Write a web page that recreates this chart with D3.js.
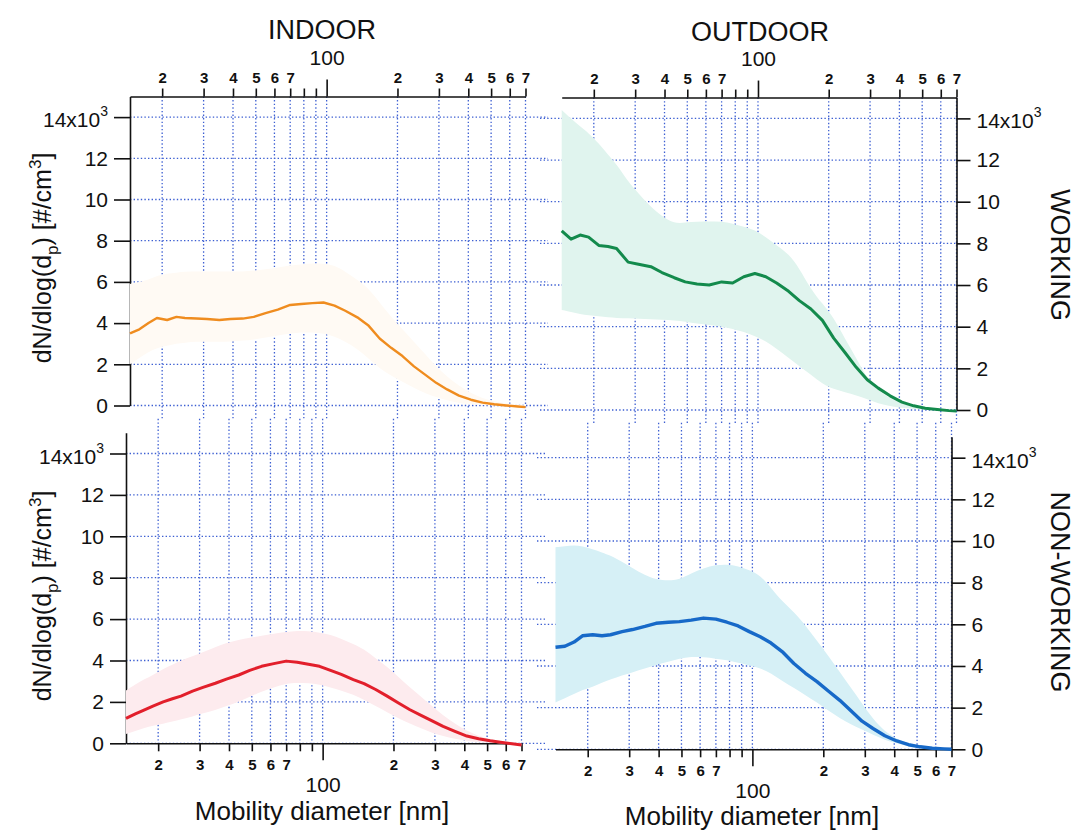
<!DOCTYPE html>
<html>
<head>
<meta charset="utf-8">
<script src="https://cdn.jsdelivr.net/npm/d3@7"></script>
<style>
  body { margin: 0; background: #fff; }
  svg { font-family: "Liberation Sans", Arial, sans-serif; }
</style>
</head>
<body>
<svg id="chart"></svg>
<script>
// mobility diameters (nm) where the curves were read
const dp = [14.6, 16, 17.5, 19, 21, 23, 25, 28, 31, 35, 39, 44, 49, 55, 62, 70, 78, 87, 97, 108,
            120, 135, 150, 168, 188, 210, 235, 262, 292, 325, 365, 410, 460, 515, 580, 650, 700];

// dN/dlog(dp), in 10^3 #/cm3
const indoorWorkMean = [3.5, 3.7, 4.0, 4.25, 4.15, 4.3, 4.25, 4.22, 4.2, 4.15, 4.2, 4.22, 4.3, 4.48, 4.65, 4.88, 4.93, 4.97, 5.0, 4.85,
                        4.6, 4.28, 3.9, 3.25, 2.8, 2.4, 1.9, 1.5, 1.1, 0.78, 0.48, 0.28, 0.14, 0.06, 0.0, -0.05, -0.08];
const indoorWorkHigh = [5.9, 6.0, 6.1, 6.3, 6.4, 6.45, 6.5, 6.5, 6.5, 6.5, 6.5, 6.5, 6.55, 6.6, 6.7, 6.8, 6.85, 6.9, 6.9, 6.8,
                        6.5, 6.1, 5.7, 5.0, 4.3, 3.7, 3.1, 2.5, 1.9, 1.4, 0.95, 0.6, 0.35, 0.2, 0.1, 0.05, 0.0];
const indoorWorkLow  = [2.0, 2.3, 2.6, 2.8, 2.9, 3.0, 3.05, 3.1, 3.1, 3.1, 3.1, 3.15, 3.2, 3.3, 3.4, 3.5, 3.55, 3.55, 3.5, 3.35,
                        3.1, 2.75, 2.3, 1.8, 1.45, 1.15, 0.85, 0.6, 0.4, 0.25, 0.12, 0.05, 0.02, 0.0, -0.02, -0.05, -0.08];

const outdoorWorkMean = [8.6, 8.2, 8.4, 8.3, 7.9, 7.85, 7.75, 7.1, 7.0, 6.88, 6.6, 6.35, 6.15, 6.05, 6.0, 6.15, 6.1, 6.4, 6.55, 6.4,
                         6.1, 5.7, 5.25, 4.85, 4.3, 3.45, 2.75, 2.05, 1.45, 1.05, 0.68, 0.38, 0.2, 0.08, 0.02, -0.03, -0.05];
const outdoorWorkHigh = [14.4, 14.0, 13.6, 13.3, 12.8, 12.25, 11.8, 10.95, 10.4, 9.75, 9.3, 8.95, 9.0, 9.05, 9.05, 9.05, 8.95, 8.8, 8.65, 8.3,
                         7.9, 7.5, 6.8, 5.8, 5.1, 4.45, 3.4, 2.5, 1.5, 0.95, 0.55, 0.3, 0.15, 0.07, 0.02, 0.0, 0.0];
const outdoorWorkLow  = [4.8, 4.7, 4.6, 4.55, 4.5, 4.45, 4.42, 4.4, 4.38, 4.35, 4.33, 4.3, 4.25, 4.15, 4.08, 4.0, 3.9, 3.75, 3.55, 3.3,
                         2.95, 2.5, 2.1, 1.7, 1.25, 1.0, 0.85, 0.7, 0.52, 0.32, 0.18, 0.1, 0.05, 0.02, 0.0, 0.0, 0.0];

const indoorNonMean = [1.2, 1.42, 1.62, 1.8, 2.0, 2.15, 2.28, 2.52, 2.7, 2.9, 3.1, 3.3, 3.52, 3.72, 3.85, 3.97, 3.92, 3.82, 3.72, 3.52,
                       3.33, 3.08, 2.88, 2.6, 2.28, 1.95, 1.62, 1.35, 1.08, 0.82, 0.58, 0.35, 0.22, 0.12, 0.04, -0.03, -0.08];
const indoorNonHigh = [2.55, 2.85, 3.1, 3.3, 3.6, 3.8, 4.0, 4.2, 4.4, 4.65, 4.85, 5.0, 5.1, 5.2, 5.3, 5.38, 5.44, 5.42, 5.35, 5.25,
                       5.05, 4.8, 4.55, 4.1, 3.7, 3.2, 2.7, 2.25, 1.8, 1.35, 0.95, 0.6, 0.35, 0.2, 0.1, 0.03, 0.0];
const indoorNonLow  = [0.45, 0.6, 0.75, 0.85, 0.95, 1.05, 1.15, 1.3, 1.45, 1.6, 1.8, 2.0, 2.25, 2.5, 2.7, 2.9, 2.92, 2.9, 2.85, 2.7,
                       2.55, 2.35, 2.1, 1.8, 1.5, 1.2, 0.95, 0.72, 0.5, 0.35, 0.22, 0.12, 0.06, 0.02, 0.0, -0.05, -0.1];

const outdoorNonMean = [4.9, 4.95, 5.15, 5.45, 5.5, 5.45, 5.5, 5.65, 5.75, 5.9, 6.05, 6.1, 6.13, 6.2, 6.3, 6.25, 6.1, 5.92, 5.65, 5.4,
                        5.1, 4.65, 4.12, 3.65, 3.25, 2.8, 2.35, 1.85, 1.35, 1.0, 0.65, 0.4, 0.22, 0.12, 0.05, 0.02, 0.0];
const outdoorNonHigh = [9.7, 9.75, 9.8, 9.75, 9.6, 9.45, 9.3, 9.0, 8.7, 8.35, 8.15, 8.1, 8.15, 8.45, 8.7, 8.85, 8.88, 8.8, 8.6, 8.35,
                        7.75, 7.05, 6.6, 5.95, 5.2, 4.5, 3.7, 2.95, 2.2, 1.45, 0.85, 0.5, 0.28, 0.15, 0.07, 0.03, 0.0];
const outdoorNonLow  = [2.25, 2.45, 2.65, 2.85, 3.0, 3.2, 3.35, 3.55, 3.7, 3.88, 4.05, 4.2, 4.35, 4.45, 4.42, 4.35, 4.28, 4.15, 4.02, 3.9,
                        3.65, 3.25, 2.95, 2.6, 2.25, 1.85, 1.5, 1.2, 0.95, 0.7, 0.45, 0.28, 0.15, 0.08, 0.03, 0.0, 0.0];

const xTicks = [20, 30, 40, 50, 60, 70, 80, 90, 100, 200, 300, 400, 500, 600, 700];
const xTickLabels = { 20: '2', 30: '3', 40: '4', 50: '5', 60: '6', 70: '7', 100: '100',
                      200: '2', 300: '3', 400: '4', 500: '5', 600: '6', 700: '7' };
const yTicks = [0, 2, 4, 6, 8, 10, 12, 14];
const colTitles = ['INDOOR', 'OUTDOOR'];
const rowTitles = ['WORKING', 'NON-WORKING'];
const xTitle = 'Mobility diameter [nm]';

const width = 1076, height = 832;
const svg = d3.select('#chart').attr('width', width).attr('height', height);

const gridColor = '#3d5fd2';

// panel placement follows the scanned figure (each panel sits a little differently)
const panels = [
  { x0: 130, x1: 525.5, yZero: 405.5, pxK: 20.6, xSide: 'top', ySide: 'left', gx: [130, 548],
    mean: indoorWorkMean, low: indoorWorkLow, high: indoorWorkHigh, line: '#ef8c1f', band: '#fffaf4', lw: 2.4 },
  { x0: 561.7, x1: 956.5, yZero: 410, pxK: 20.83, xSide: 'top', ySide: 'right', gx: [540, 956.5],
    mean: outdoorWorkMean, low: outdoorWorkLow, high: outdoorWorkHigh, line: '#138a4c', band: '#e0f4ee', lw: 3 },
  { x0: 126, x1: 521.5, yZero: 743.3, pxK: 20.7, xSide: 'bottom', ySide: 'left', gx: [126, 545],
    mean: indoorNonMean, low: indoorNonLow, high: indoorNonHigh, line: '#e21f2b', band: '#fdebee', lw: 3 },
  { x0: 555.5, x1: 951.5, yZero: 749.3, pxK: 20.83, xSide: 'bottom', ySide: 'right', gx: [537, 951.5],
    mean: outdoorNonMean, low: outdoorNonLow, high: outdoorNonHigh, line: '#1769c8', band: '#d6f0f6', lw: 3.4 }
];

panels.forEach(p => {
  const x = d3.scaleLog().domain([14.6, 700]).range([p.x0, p.x1]);
  const y = d3.scaleLinear().domain([0, 15]).range([p.yZero, p.yZero - 15 * p.pxK]);
  const g = svg.append('g');

  // dotted grid
  const vy0 = p.xSide === 'top' ? y(15) : y(15) - 14;
  const vy1 = p.xSide === 'top' ? y(0) + 14 : y(0);
  g.append('g').selectAll('line').data(xTicks).join('line')
    .attr('x1', d => x(d)).attr('x2', d => x(d))
    .attr('y1', vy0).attr('y2', vy1)
    .attr('stroke', gridColor).attr('stroke-width', 1.3).attr('stroke-dasharray', '1.4,2.2');
  g.append('g').selectAll('line').data(yTicks).join('line')
    .attr('x1', p.gx[0]).attr('x2', p.gx[1])
    .attr('y1', d => y(d)).attr('y2', d => y(d))
    .attr('stroke', gridColor).attr('stroke-width', 1.3).attr('stroke-dasharray', '1.4,2.2');

  // x axis
  const xAxis = (p.xSide === 'top' ? d3.axisTop(x) : d3.axisBottom(x))
    .tickValues(xTicks).tickSize(8).tickSizeOuter(0).tickPadding(p.xSide === 'top' ? 6 : 8)
    .tickFormat(d => xTickLabels[d] || '');
  const xg = g.append('g')
    .attr('transform', `translate(0,${p.xSide === 'top' ? y(15) : y(0)})`)
    .call(xAxis);
  xg.select('.domain').attr('stroke', '#111').attr('stroke-width', 1.6);
  xg.selectAll('.tick line').attr('stroke', '#111').attr('stroke-width', 1.6);
  xg.selectAll('.tick text').attr('fill', '#111').attr('font-size', 15).attr('font-weight', 'bold');
  const major = xg.selectAll('.tick').filter(d => d === 100);
  major.select('line').attr('y2', p.xSide === 'top' ? -17 : 17);
  major.select('text').attr('font-size', 21).attr('font-weight', 'normal')
    .attr('y', p.xSide === 'top' ? -32 : 34);

  // y axis
  const yAxis = (p.ySide === 'left' ? d3.axisLeft(y) : d3.axisRight(y))
    .tickValues(yTicks).tickSize(p.ySide === 'left' ? 16 : 14).tickSizeOuter(0).tickPadding(6)
    .tickFormat(d => d === 14 ? '' : d);
  const yg = g.append('g')
    .attr('transform', `translate(${p.ySide === 'left' ? p.x0 : p.x1},0)`)
    .call(yAxis);
  yg.select('.domain').attr('stroke', '#111').attr('stroke-width', 1.6);
  yg.selectAll('.tick line').attr('stroke', '#111').attr('stroke-width', 1.6);
  yg.selectAll('.tick text').attr('fill', '#111').attr('font-size', 21);
  const t14 = yg.append('text')
    .attr('x', p.ySide === 'left' ? -22 : 20)
    .attr('y', y(14) + 10)
    .attr('text-anchor', p.ySide === 'left' ? 'end' : 'start')
    .attr('fill', '#111').attr('font-size', 21);
  t14.append('tspan').text('14x10');
  t14.append('tspan').attr('dy', -11).attr('font-size', 14).text('3');

  // band and mean line
  const rows = dp.map((d, i) => ({ d, m: p.mean[i], lo: p.low[i], hi: p.high[i] }));
  g.append('path').datum(rows)
    .attr('fill', p.band)
    .attr('d', d3.area().curve(d3.curveBasis).x(r => x(r.d)).y0(r => y(r.lo)).y1(r => y(r.hi)));
  g.append('path').datum(rows)
    .attr('fill', 'none').attr('stroke', p.line).attr('stroke-width', p.lw).attr('stroke-linejoin', 'round')
    .attr('d', d3.line().x(r => x(r.d)).y(r => y(r.m)));
});

// column titles
svg.append('text').attr('x', 322).attr('y', 39).attr('text-anchor', 'middle')
  .attr('font-size', 27).attr('fill', '#111').text(colTitles[0]);
svg.append('text').attr('x', 760).attr('y', 41).attr('text-anchor', 'middle')
  .attr('font-size', 27).attr('fill', '#111').text(colTitles[1]);

// row titles on the right
[[1060, 255, rowTitles[0]], [1060, 592, rowTitles[1]]].forEach(([cx, cy, t]) => {
  svg.append('text').attr('transform', `translate(${cx},${cy}) rotate(90)`)
    .attr('text-anchor', 'middle').attr('dy', '0.35em')
    .attr('font-size', 27).attr('fill', '#111').text(t);
});

// y axis titles
[[42, 258], [42, 596]].forEach(([cx, cy]) => {
  const t = svg.append('text').attr('transform', `translate(${cx},${cy}) rotate(-90)`)
    .attr('text-anchor', 'middle').attr('dy', '0.35em')
    .attr('font-size', 25).attr('fill', '#111');
  t.append('tspan').text('dN/dlog(d');
  t.append('tspan').attr('dy', 7).attr('font-size', 17).text('p');
  t.append('tspan').attr('dy', -7).text(') [#/cm');
  t.append('tspan').attr('dy', -10).attr('font-size', 17).text('3');
  t.append('tspan').attr('dy', 10).text(']');
});

// x axis titles
svg.append('text').attr('x', 322).attr('y', 820).attr('text-anchor', 'middle')
  .attr('font-size', 26).attr('fill', '#111').text(xTitle);
svg.append('text').attr('x', 752).attr('y', 825).attr('text-anchor', 'middle')
  .attr('font-size', 26).attr('fill', '#111').text(xTitle);
</script>
</body>
</html>
